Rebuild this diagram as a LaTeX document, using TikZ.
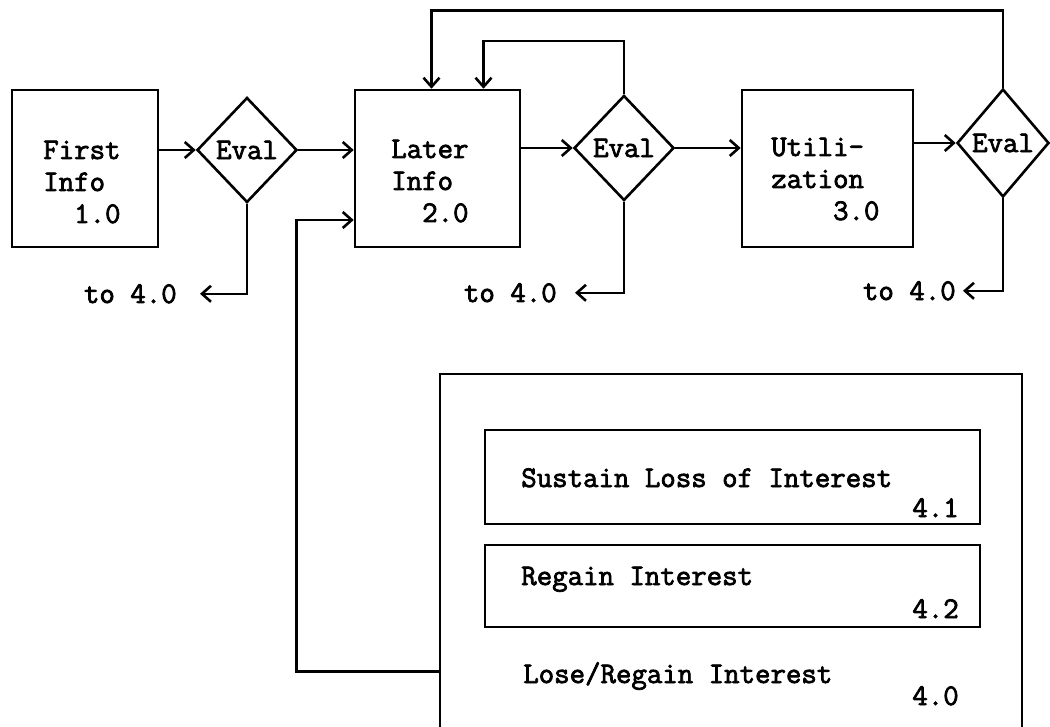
\documentclass[tikz,border=0pt]{standalone}
\usepackage{fontspec}
\newfontfamily\typefont{Latin Modern Mono}[FakeBold=2.5]
\usetikzlibrary{shapes.geometric,arrows.meta}

\begin{document}
\begin{tikzpicture}[
 x=0.5pt,y=-0.5pt,
 every node/.style={font=\typefont\fontsize{15}{16}\selectfont},
 line width=1.3pt,
 >={Straight Barb[length=4.5pt,width=8pt]},
 block/.style={draw,minimum height=78.5pt,inner sep=0pt},
 evalbox/.style={draw,diamond,inner sep=0pt,minimum width=50pt,minimum height=52.5pt},
 subbox/.style={draw,minimum width=247.5pt,inner sep=0pt},
 blocktext/.style={align=left,anchor=base west,inner sep=0pt},
 exit/.style={anchor=base east,inner sep=0pt}
]
 \clip (0,0) rectangle (1050,727);

 \node[block,minimum width=73pt] (info1) at (85,168.5) {};
 \node[block,minimum width=82.5pt] (info2) at (437.5,168.5) {};
 \node[block,minimum width=85.5pt] (util) at (827.5,168.5) {};
 % base of a multi-line node is its last line
 \node[blocktext] (info1txt) at (42,223) {First\\Info\\\phantom{00}1.0};
 \node[blocktext] (info2txt) at (390,222) {Later\\Info\\\phantom{00}2.0};
 \node[blocktext] (utiltxt) at (770,220) {Utili-\\zation\\\phantom{0000}3.0};

 \node[evalbox] (eval1) at (247,150) {Eval};
 \node[evalbox] (eval2) at (624,148) {Eval};
 \node[evalbox,minimum width=46pt,minimum height=54pt] (eval3) at (1003,143) {Eval};

 \node[exit] (out1) at (178,303) {to 4.0};
 \node[exit] (out2) at (558,302) {to 4.0};
 \node[exit] (out3) at (957,300) {to 4.0};

 % the bottom edge of 4.0 lies below the page
 \node[draw,minimum width=291pt,minimum height=183pt] (interest) at (731,557) {};
 \node[subbox,minimum height=47pt] (sustain) at (732.5,477) {};
 \node[subbox,minimum height=41pt] (regain) at (732.5,586) {};
 \node[anchor=base west,inner sep=0pt] (sustaintxt) at (520,487) {Sustain Loss of Interest};
 \node[exit] (sustainnum) at (960,517) {4.1};
 \node[anchor=base west,inner sep=0pt] (regaintxt) at (520,585) {Regain Interest};
 \node[exit] (regainnum) at (960,618) {4.2};
 \node[anchor=base west,inner sep=0pt] (losetxt) at (522,683) {Lose/Regain Interest};
 \node[exit] (losenum) at (960,705) {4.0};

 \draw[->] (eval1.west -| info1.east) -- (eval1.west);
 \draw[->] (eval1.east) -- (eval1.east -| info2.west);
 \draw[->] (eval2.west -| info2.east) -- (eval2.west);
 \draw[->] (eval2.east) -- (eval2.east -| util.west);
 \draw[->] (eval3.west -| util.east) -- (eval3.west);

 \draw[->] (eval1.south) |- ([xshift=11pt]out1.east);
 \draw[->] (eval2.south) |- ([xshift=8.5pt]out2.east);
 \draw[->] (eval3.south) |- ([xshift=3pt]out3.east);

 \draw[->] (eval2.north) -- ++(0,-53) -| ([xshift=23pt]info2.north);
 \draw[->] (eval3.north) -- ++(0,-77) -| ([xshift=-3pt]info2.north);
 \draw[->] ([yshift=-149.5pt]interest.north west) -- ++(-142,0)
  |- ([yshift=-25.75pt]info2.west);
\end{tikzpicture}
\end{document}
